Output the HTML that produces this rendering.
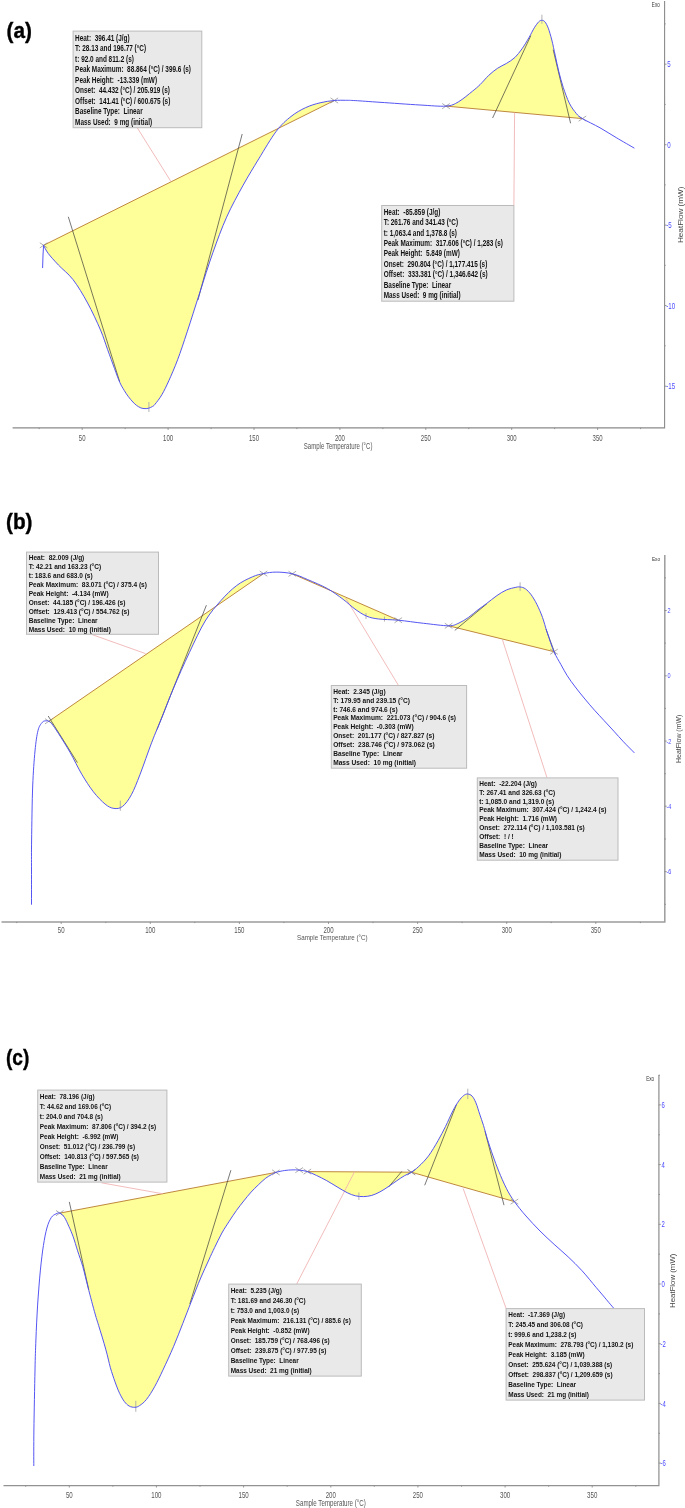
<!DOCTYPE html>
<html><head><meta charset="utf-8"><title>DSC curves</title>
<style>
html,body{margin:0;padding:0;background:#fff}
svg{display:block;font-family:"Liberation Sans",sans-serif}
</style></head><body>
<svg width="685" height="1508" viewBox="0 0 685 1508">
<rect width="685" height="1508" fill="#fff"/>
<path d="M43.6 245.3C44.4 246.7 45.7 250.1 48.2 253.4C50.7 256.7 54.3 260.6 58.4 265C62.5 269.4 68.1 273.3 73 279.6C77.9 285.9 83 294.6 87.6 303C92.2 311.4 97.2 322.3 100.5 330C103.8 337.7 105.2 342.9 107.5 349.3C109.8 355.7 112.5 363 114.5 368.5C116.5 374 118.2 378.8 119.8 382.4C121.4 386 122.8 388 124.2 390.4C125.7 392.8 127 394.9 128.5 396.8C129.9 398.7 131.6 400.6 132.9 402C134.2 403.4 135.1 404.3 136.4 405.3C137.7 406.3 139.4 407.3 140.8 407.9C142.2 408.4 143.7 408.6 145 408.6C146.3 408.7 147.5 408.5 148.7 408.2C149.9 407.9 151.2 407.2 152.2 406.6C153.2 406 153.2 406.5 154.8 404.5C156.4 402.5 159.5 398.8 161.8 394.8C164.1 390.9 166.2 386.6 168.8 380.8C171.4 375 174.5 368 177.6 359.8C180.7 351.6 183.5 343 187.2 331.8C190.9 320.6 195.4 306.1 199.7 292.8C204 279.6 208.5 264.9 213 252.3C217.5 239.7 221.6 228.4 226.6 217.2C231.6 206 237.8 194.8 243.2 185.1C248.6 175.4 253.3 167.8 258.8 158.8C264.3 149.8 271 138.2 276.4 131.1C281.8 124 286.1 120.4 291 116.5C295.9 112.6 300.6 110 305.5 107.7C310.4 105.4 315.3 104 320.1 102.8C324.9 101.6 330 100.9 334.3 100.5Z" fill="#ffff99" stroke="none"/>
<path d="M446 106.1C452.4 105.6 454.1 104.3 458.5 101.8C462.9 99.3 469 93.9 472.6 91.1C476.2 88.2 477.3 87.3 480 84.7C482.7 82.1 485.9 78 488.8 75.3C491.7 72.6 494.6 70.3 497.5 68.3C500.4 66.3 503.4 65.3 506.3 63.5C509.2 61.7 512.4 59.9 515 57.4C517.6 54.9 519.6 52.1 522 48.8C524.4 45.5 527.1 40.9 529.1 37.4C531.1 33.9 532.7 30.4 534.3 27.8C535.9 25.2 537.5 23.1 538.7 21.8C540 20.6 540.8 20.3 541.8 20.3C542.8 20.3 543.8 20.5 544.9 21.8C546 23.1 547.1 25.2 548.3 28.2C549.4 31.2 550.6 35.4 551.8 40C553 44.6 554.1 50.5 555.3 55.8C556.5 61.1 557.5 66.3 558.8 71.6C560.1 76.8 561.5 82 563.2 87.3C565 92.5 567.1 98.7 569.3 103.1C571.5 107.5 574.2 111 576.4 113.6C578.6 116.2 578.5 116.2 582.4 118.6Z" fill="#ffff99" stroke="none"/>
<line x1="43.6" y1="245.3" x2="334.3" y2="100.5" stroke="#b87a30" stroke-width="0.9"/>
<line x1="446" y1="106.1" x2="582.4" y2="118.6" stroke="#b87a30" stroke-width="0.9"/>
<line x1="137.2" y1="127.7" x2="170.8" y2="181.3" stroke="#f0b0b0" stroke-width="0.85"/>
<line x1="514.6" y1="112.5" x2="513.9" y2="205" stroke="#f0b0b0" stroke-width="0.85"/>
<line x1="68.3" y1="216.8" x2="119.7" y2="381.8" stroke="#3c3c3c" stroke-width="0.7"/>
<line x1="242.2" y1="134" x2="198" y2="300" stroke="#3c3c3c" stroke-width="0.7"/>
<line x1="492.6" y1="118" x2="530.8" y2="35.7" stroke="#3c3c3c" stroke-width="0.7"/>
<line x1="553.2" y1="49.7" x2="570.6" y2="123.3" stroke="#3c3c3c" stroke-width="0.7"/>
<path d="M39.8 242.7l7.6 5.2M39.8 247.9l7.6 -5.2" stroke="#8a8a8a" stroke-width="0.7" fill="none"/>
<path d="M330.5 97.9l7.6 5.2M330.5 103.1l7.6 -5.2" stroke="#8a8a8a" stroke-width="0.7" fill="none"/>
<path d="M442.2 103.5l7.6 5.2M442.2 108.7l7.6 -5.2" stroke="#8a8a8a" stroke-width="0.7" fill="none"/>
<path d="M578.6 116l7.6 5.2M578.6 121.2l7.6 -5.2" stroke="#8a8a8a" stroke-width="0.7" fill="none"/>
<line x1="148.9" y1="402" x2="148.9" y2="412" stroke="#aaa" stroke-width="0.9"/>
<line x1="541.9" y1="14.7" x2="541.9" y2="23.8" stroke="#aaa" stroke-width="0.9"/>
<path d="M42.6 268 L43 255 L43.6 245.3 M43.6 245.3C44.4 246.7 45.7 250.1 48.2 253.4C50.7 256.7 54.3 260.6 58.4 265C62.5 269.4 68.1 273.3 73 279.6C77.9 285.9 83 294.6 87.6 303C92.2 311.4 97.2 322.3 100.5 330C103.8 337.7 105.2 342.9 107.5 349.3C109.8 355.7 112.5 363 114.5 368.5C116.5 374 118.2 378.8 119.8 382.4C121.4 386 122.8 388 124.2 390.4C125.7 392.8 127 394.9 128.5 396.8C129.9 398.7 131.6 400.6 132.9 402C134.2 403.4 135.1 404.3 136.4 405.3C137.7 406.3 139.4 407.3 140.8 407.9C142.2 408.4 143.7 408.6 145 408.6C146.3 408.7 147.5 408.5 148.7 408.2C149.9 407.9 151.2 407.2 152.2 406.6C153.2 406 153.2 406.5 154.8 404.5C156.4 402.5 159.5 398.8 161.8 394.8C164.1 390.9 166.2 386.6 168.8 380.8C171.4 375 174.5 368 177.6 359.8C180.7 351.6 183.5 343 187.2 331.8C190.9 320.6 195.4 306.1 199.7 292.8C204 279.6 208.5 264.9 213 252.3C217.5 239.7 221.6 228.4 226.6 217.2C231.6 206 237.8 194.8 243.2 185.1C248.6 175.4 253.3 167.8 258.8 158.8C264.3 149.8 271 138.2 276.4 131.1C281.8 124 286.1 120.4 291 116.5C295.9 112.6 300.6 110 305.5 107.7C310.4 105.4 315.3 104 320.1 102.8C324.9 101.6 330 100.9 334.3 100.5C338.6 100.1 342.2 100.3 345.7 100.3C349.2 100.3 349.5 100.3 355.2 100.6C360.9 100.9 369.2 101.6 380 102.3C390.8 103 409 104.4 420 105C431 105.6 439.6 106.6 446 106.1C452.4 105.6 454.1 104.3 458.5 101.8C462.9 99.3 469 93.9 472.6 91.1C476.2 88.2 477.3 87.3 480 84.7C482.7 82.1 485.9 78 488.8 75.3C491.7 72.6 494.6 70.3 497.5 68.3C500.4 66.3 503.4 65.3 506.3 63.5C509.2 61.7 512.4 59.9 515 57.4C517.6 54.9 519.6 52.1 522 48.8C524.4 45.5 527.1 40.9 529.1 37.4C531.1 33.9 532.7 30.4 534.3 27.8C535.9 25.2 537.5 23.1 538.7 21.8C540 20.6 540.8 20.3 541.8 20.3C542.8 20.3 543.8 20.5 544.9 21.8C546 23.1 547.1 25.2 548.3 28.2C549.4 31.2 550.6 35.4 551.8 40C553 44.6 554.1 50.5 555.3 55.8C556.5 61.1 557.5 66.3 558.8 71.6C560.1 76.8 561.5 82 563.2 87.3C565 92.5 567.1 98.7 569.3 103.1C571.5 107.5 574.2 111 576.4 113.6C578.6 116.2 578.5 116.2 582.4 118.6C586.3 121 594.4 124.6 600 127.8C605.6 131 610.5 134.2 616.2 137.6C621.9 141 631.4 146.4 634.4 148.2" fill="none" stroke="#4c4cf2" stroke-width="0.95" stroke-linejoin="round"/>
<path d="M12.6 427.9H664.6V1" fill="none" stroke="#8a8a8a" stroke-width="1.1"/>
<path d="M39.2 427.9v1.2M82.2 427.9v2M125.2 427.9v1.2M168.1 427.9v2M211.1 427.9v1.2M254 427.9v2M296.9 427.9v1.2M339.9 427.9v2M382.9 427.9v1.2M425.8 427.9v2M468.8 427.9v1.2M511.7 427.9v2M554.7 427.9v1.2M597.6 427.9v2M640.6 427.9v1.2M664.3 64.2h2.2M664.3 144.7h2.2M664.3 225.1h2.2M664.3 305.5h2.2M664.3 386.2h2.2M664.3 23.9h1.4M664.3 104.4h1.4M664.3 184.9h1.4M664.3 265.3h1.4M664.3 345.8h1.4" stroke="#8a8a8a" stroke-width="0.9" fill="none"/>
<text transform="translate(82.2 440.8) scale(0.645 1)" font-size="9.3" text-anchor="middle" fill="#555">50</text>
<text transform="translate(168.1 440.8) scale(0.645 1)" font-size="9.3" text-anchor="middle" fill="#555">100</text>
<text transform="translate(254 440.8) scale(0.645 1)" font-size="9.3" text-anchor="middle" fill="#555">150</text>
<text transform="translate(339.9 440.8) scale(0.645 1)" font-size="9.3" text-anchor="middle" fill="#555">200</text>
<text transform="translate(425.8 440.8) scale(0.645 1)" font-size="9.3" text-anchor="middle" fill="#555">250</text>
<text transform="translate(511.7 440.8) scale(0.645 1)" font-size="9.3" text-anchor="middle" fill="#555">300</text>
<text transform="translate(597.6 440.8) scale(0.645 1)" font-size="9.3" text-anchor="middle" fill="#555">350</text>
<text transform="translate(667.3 67.2) scale(0.73 1)" font-size="8.4" text-anchor="start" fill="#4a4aff">5</text>
<text transform="translate(667.3 147.7) scale(0.73 1)" font-size="8.4" text-anchor="start" fill="#4a4aff">0</text>
<text transform="translate(666.3 228.1) scale(0.73 1)" font-size="8.4" text-anchor="start" fill="#4a4aff">-5</text>
<text transform="translate(666.3 308.5) scale(0.73 1)" font-size="8.4" text-anchor="start" fill="#4a4aff">-10</text>
<text transform="translate(666.3 389.2) scale(0.73 1)" font-size="8.4" text-anchor="start" fill="#4a4aff">-15</text>
<text transform="translate(338.1 448.9) scale(0.714 1)" font-size="8.5" text-anchor="middle" fill="#555">Sample Temperature (°C)</text>
<text transform="translate(659.8 7) scale(0.72 1)" font-size="6.4" text-anchor="end" fill="#333">Exo</text>
<text transform="translate(683 214.8) rotate(-90) scale(1.13 1)" text-anchor="middle" font-size="7.2" fill="#444">HeatFlow (mW)</text>
<rect x="73.1" y="31.1" width="128.7" height="96.6" fill="#e9e9e9" stroke="#bbb" stroke-width="1"/>
<g transform="translate(75.1 0) scale(0.774 1)" font-size="8.3" font-weight="bold" fill="#111"><text x="0" y="40.8" xml:space="preserve">Heat:  396.41 (J/g)</text><text x="0" y="51.3" xml:space="preserve">T: 28.13 and 196.77 (°C)</text><text x="0" y="61.7" xml:space="preserve">t: 92.0 and 811.2 (s)</text><text x="0" y="72.2" xml:space="preserve">Peak Maximum:  88.864 (°C) / 399.6 (s)</text><text x="0" y="82.7" xml:space="preserve">Peak Height:  -13.339 (mW)</text><text x="0" y="93.2" xml:space="preserve">Onset:  44.432 (°C) / 205.919 (s)</text><text x="0" y="103.6" xml:space="preserve">Offset:  141.41 (°C) / 600.675 (s)</text><text x="0" y="114.1" xml:space="preserve">Baseline Type:  Linear</text><text x="0" y="124.6" xml:space="preserve">Mass Used:  9 mg (initial)</text></g>
<rect x="381.7" y="205.5" width="132.2" height="95.7" fill="#e9e9e9" stroke="#bbb" stroke-width="1"/>
<g transform="translate(383.7 0) scale(0.772 1)" font-size="8.3" font-weight="bold" fill="#111"><text x="0" y="214.7" xml:space="preserve">Heat:  -85.859 (J/g)</text><text x="0" y="225.1" xml:space="preserve">T: 261.76 and 341.43 (°C)</text><text x="0" y="235.6" xml:space="preserve">t: 1,063.4 and 1,378.8 (s)</text><text x="0" y="246" xml:space="preserve">Peak Maximum:  317.606 (°C) / 1,283 (s)</text><text x="0" y="256.4" xml:space="preserve">Peak Height:  5.849 (mW)</text><text x="0" y="266.8" xml:space="preserve">Onset:  290.804 (°C) / 1,177.415 (s)</text><text x="0" y="277.3" xml:space="preserve">Offset:  333.381 (°C) / 1,346.642 (s)</text><text x="0" y="287.7" xml:space="preserve">Baseline Type:  Linear</text><text x="0" y="298.1" xml:space="preserve">Mass Used:  9 mg (initial)</text></g>
<text transform="translate(6.6 38) scale(0.965 1)" font-size="21.5" font-weight="bold" fill="#000" stroke="#000" stroke-width="0.35">(a)</text>
<path d="M48.8 721.3C49.7 721.7 49.9 721.4 51.5 723.4C53.1 725.4 55.3 728.6 58.4 733.4C61.5 738.2 66.2 745.6 70.1 752.4C74 759.2 77.9 767.7 81.8 774.3C85.7 780.9 89.5 786.8 93.4 791.8C97.3 796.8 101.7 801.3 105.1 804.1C108.5 806.9 111 808 113.9 808.4C116.8 808.8 119.7 808.7 122.6 806.4C125.5 804.1 128.5 800.1 131.4 794.7C134.3 789.4 136.7 783 140.1 774.3C143.5 765.5 148.1 751.9 151.8 742.2C155.5 732.5 158.9 725 162.5 716C166.1 707 169.1 698.6 173.6 688C178.1 677.4 184.1 663.7 189.4 652.5C194.7 641.3 199.9 629.7 205.2 621C210.5 612.3 215.8 606.4 221 600.5C226.2 594.6 231.4 589.5 236.7 585.5C241.9 581.5 248 578.8 252.5 576.8C257 574.8 259.6 574.4 263.5 573.6Z" fill="#ffff99" stroke="none"/>
<path d="M292.3 573.8C297.6 575 301.9 577.1 307.7 579.6C313.5 582.1 321.5 585.3 327.4 588.6C333.3 591.9 338.5 595.9 343.1 599.3C347.7 602.7 351.1 606.3 355 609.1C358.9 611.9 362.9 614.6 366.8 616.2C370.7 617.9 373.4 618.3 378.6 619C383.9 619.7 390.8 619.5 398.3 620.2Z" fill="#ffff99" stroke="none"/>
<path d="M448.6 625.8C454.5 625.8 455.7 624.4 459 623C462.3 621.6 465.3 619.6 468.5 617.4C471.7 615.2 475 612.1 478 609.8C481 607.5 483.4 606 486.5 603.6C489.6 601.2 493.6 597.9 496.9 595.6C500.2 593.3 503.2 591.4 506.4 590C509.6 588.6 513.6 587.8 515.9 587.3C518.2 586.8 518.5 586.8 520.1 587C521.7 587.2 523.6 587.5 525.4 588.8C527.2 590.1 529.2 592.1 531.1 594.7C533 597.3 534.9 600.4 536.8 604.2C538.7 608 540.8 612.7 542.5 617.4C544.2 622.1 545.3 626.9 547.2 632.6C549.1 638.3 551.7 646.4 554 651.7Z" fill="#ffff99" stroke="none"/>
<line x1="48.8" y1="721.3" x2="263.5" y2="573.6" stroke="#b87a30" stroke-width="0.9"/>
<line x1="292.3" y1="573.8" x2="398.3" y2="620.2" stroke="#b87a30" stroke-width="0.9"/>
<line x1="448.6" y1="625.8" x2="554" y2="651.7" stroke="#b87a30" stroke-width="0.9"/>
<line x1="91.3" y1="634.3" x2="145.5" y2="653.6" stroke="#f0b0b0" stroke-width="0.85"/>
<line x1="345.5" y1="597.7" x2="398.5" y2="685.5" stroke="#f0b0b0" stroke-width="0.85"/>
<line x1="502.5" y1="639.9" x2="547" y2="777.7" stroke="#f0b0b0" stroke-width="0.85"/>
<line x1="48.2" y1="716" x2="77.4" y2="762.6" stroke="#3c3c3c" stroke-width="0.7"/>
<line x1="206.4" y1="605.2" x2="157" y2="729.5" stroke="#3c3c3c" stroke-width="0.7"/>
<line x1="454.8" y1="630.4" x2="487" y2="603.6" stroke="#3c3c3c" stroke-width="0.7"/>
<line x1="546" y1="629" x2="555.5" y2="655" stroke="#3c3c3c" stroke-width="0.7"/>
<path d="M45 718.7l7.6 5.2M45 723.9l7.6 -5.2" stroke="#8a8a8a" stroke-width="0.7" fill="none"/>
<path d="M259.7 571l7.6 5.2M259.7 576.2l7.6 -5.2" stroke="#8a8a8a" stroke-width="0.7" fill="none"/>
<path d="M288.5 571.2l7.6 5.2M288.5 576.4l7.6 -5.2" stroke="#8a8a8a" stroke-width="0.7" fill="none"/>
<path d="M394.5 617.6l7.6 5.2M394.5 622.8l7.6 -5.2" stroke="#8a8a8a" stroke-width="0.7" fill="none"/>
<path d="M444.8 623.2l7.6 5.2M444.8 628.4l7.6 -5.2" stroke="#8a8a8a" stroke-width="0.7" fill="none"/>
<path d="M550.2 649.1l7.6 5.2M550.2 654.3l7.6 -5.2" stroke="#8a8a8a" stroke-width="0.7" fill="none"/>
<line x1="120.3" y1="800.6" x2="120.3" y2="810.8" stroke="#aaa" stroke-width="0.9"/>
<line x1="520.1" y1="582.3" x2="520.1" y2="590.9" stroke="#aaa" stroke-width="0.9"/>
<line x1="366" y1="613" x2="366" y2="619" stroke="#aaa" stroke-width="0.9"/>
<line x1="384.5" y1="616.5" x2="384.5" y2="621.5" stroke="#aaa" stroke-width="0.9"/>
<path d="M31.5 904.7C31.5 898.9 31.5 880.8 31.5 870C31.5 859.2 31.4 854 31.6 840C31.8 826 32.1 800.8 32.7 786C33.3 771.2 34.1 760.2 35 751C35.9 741.8 36.8 735.3 38 730.5C39.2 725.7 41 723.9 42.3 722.3C43.6 720.7 44.9 721 46 720.8C47.1 720.6 47.9 720.9 48.8 721.3C49.7 721.7 49.9 721.4 51.5 723.4C53.1 725.4 55.3 728.6 58.4 733.4C61.5 738.2 66.2 745.6 70.1 752.4C74 759.2 77.9 767.7 81.8 774.3C85.7 780.9 89.5 786.8 93.4 791.8C97.3 796.8 101.7 801.3 105.1 804.1C108.5 806.9 111 808 113.9 808.4C116.8 808.8 119.7 808.7 122.6 806.4C125.5 804.1 128.5 800.1 131.4 794.7C134.3 789.4 136.7 783 140.1 774.3C143.5 765.5 148.1 751.9 151.8 742.2C155.5 732.5 158.9 725 162.5 716C166.1 707 169.1 698.6 173.6 688C178.1 677.4 184.1 663.7 189.4 652.5C194.7 641.3 199.9 629.7 205.2 621C210.5 612.3 215.8 606.4 221 600.5C226.2 594.6 231.4 589.5 236.7 585.5C241.9 581.5 248 578.8 252.5 576.8C257 574.8 259.6 574.4 263.5 573.6C267.4 572.8 271.3 572.1 276.1 572.1C280.9 572.1 287 572.5 292.3 573.8C297.6 575 301.9 577.1 307.7 579.6C313.5 582.1 321.5 585.3 327.4 588.6C333.3 591.9 338.5 595.9 343.1 599.3C347.7 602.7 351.1 606.3 355 609.1C358.9 611.9 362.9 614.6 366.8 616.2C370.7 617.9 373.4 618.3 378.6 619C383.9 619.7 390.8 619.5 398.3 620.2C405.8 620.9 415.2 622.4 423.6 623.3C432 624.2 442.7 625.8 448.6 625.8C454.5 625.8 455.7 624.4 459 623C462.3 621.6 465.3 619.6 468.5 617.4C471.7 615.2 475 612.1 478 609.8C481 607.5 483.4 606 486.5 603.6C489.6 601.2 493.6 597.9 496.9 595.6C500.2 593.3 503.2 591.4 506.4 590C509.6 588.6 513.6 587.8 515.9 587.3C518.2 586.8 518.5 586.8 520.1 587C521.7 587.2 523.6 587.5 525.4 588.8C527.2 590.1 529.2 592.1 531.1 594.7C533 597.3 534.9 600.4 536.8 604.2C538.7 608 540.8 612.7 542.5 617.4C544.2 622.1 545.3 626.9 547.2 632.6C549.1 638.3 551.7 646.4 554 651.7C556.3 657 558.7 660.5 560.9 664.5C563.1 668.5 564.9 672 567.3 675.8C569.7 679.5 572.3 683.1 575.3 687C578.2 690.9 581.8 695.2 585 699.1C588.2 703 591.4 706.7 594.6 710.3C597.8 713.9 601 717.2 604.2 720.7C607.4 724.2 610.7 727.7 613.9 731.2C617.1 734.7 620.1 738.2 623.5 741.8C626.9 745.4 632.6 751 634.4 752.9" fill="none" stroke="#4c4cf2" stroke-width="0.95" stroke-linejoin="round"/>
<path d="M1.5 921.9H664.8V555" fill="none" stroke="#9c9c9c" stroke-width="1.5"/>
<path d="M16.7 921.9v1.2M61.2 921.9v2M105.8 921.9v1.2M150.3 921.9v2M194.8 921.9v1.2M239.4 921.9v2M283.9 921.9v1.2M328.5 921.9v2M373 921.9v1.2M417.6 921.9v2M462.1 921.9v1.2M506.7 921.9v2M551.2 921.9v1.2M595.8 921.9v2M640.4 921.9v1.2M664.5 610.5h2.2M664.5 675.8h2.2M664.5 741.1h2.2M664.5 806.2h2.2M664.5 871.6h2.2M664.5 577.8h1.4M664.5 643.1h1.4M664.5 708.4h1.4M664.5 773.7h1.4M664.5 839h1.4M664.5 904.3h1.4" stroke="#8a8a8a" stroke-width="0.9" fill="none"/>
<text transform="translate(61.2 933) scale(0.715 1)" font-size="8.5" text-anchor="middle" fill="#555">50</text>
<text transform="translate(150.3 933) scale(0.715 1)" font-size="8.5" text-anchor="middle" fill="#555">100</text>
<text transform="translate(239.4 933) scale(0.715 1)" font-size="8.5" text-anchor="middle" fill="#555">150</text>
<text transform="translate(328.5 933) scale(0.715 1)" font-size="8.5" text-anchor="middle" fill="#555">200</text>
<text transform="translate(417.6 933) scale(0.715 1)" font-size="8.5" text-anchor="middle" fill="#555">250</text>
<text transform="translate(506.7 933) scale(0.715 1)" font-size="8.5" text-anchor="middle" fill="#555">300</text>
<text transform="translate(595.8 933) scale(0.715 1)" font-size="8.5" text-anchor="middle" fill="#555">350</text>
<text transform="translate(667.5 613) scale(0.8 1)" font-size="6.9" text-anchor="start" fill="#4a4aff">2</text>
<text transform="translate(667.5 678.2) scale(0.8 1)" font-size="6.9" text-anchor="start" fill="#4a4aff">0</text>
<text transform="translate(666.5 743.6) scale(0.8 1)" font-size="6.9" text-anchor="start" fill="#4a4aff">-2</text>
<text transform="translate(666.5 808.7) scale(0.8 1)" font-size="6.9" text-anchor="start" fill="#4a4aff">-4</text>
<text transform="translate(666.5 874.1) scale(0.8 1)" font-size="6.9" text-anchor="start" fill="#4a4aff">-6</text>
<text transform="translate(332.3 939.8) scale(0.809 1)" font-size="7.7" text-anchor="middle" fill="#555">Sample Temperature (°C)</text>
<text transform="translate(660 560.8) scale(0.83 1)" font-size="5.6" text-anchor="end" fill="#333">Exo</text>
<text transform="translate(681.2 738.8) rotate(-90) scale(0.968 1)" text-anchor="middle" font-size="7.2" fill="#444">HeatFlow (mW)</text>
<rect x="26.5" y="552.1" width="132" height="82.2" fill="#e9e9e9" stroke="#bbb" stroke-width="1"/>
<g transform="translate(28.7 0) scale(0.936 1)" font-size="7.0" font-weight="bold" fill="#111"><text x="0" y="560.4" xml:space="preserve">Heat:  82.009 (J/g)</text><text x="0" y="569.3" xml:space="preserve">T: 42.21 and 163.23 (°C)</text><text x="0" y="578.3" xml:space="preserve">t: 183.6 and 683.0 (s)</text><text x="0" y="587.2" xml:space="preserve">Peak Maximum:  83.071 (°C) / 375.4 (s)</text><text x="0" y="596.2" xml:space="preserve">Peak Height:  -4.134 (mW)</text><text x="0" y="605.1" xml:space="preserve">Onset:  44.185 (°C) / 196.426 (s)</text><text x="0" y="614" xml:space="preserve">Offset:  129.413 (°C) / 554.762 (s)</text><text x="0" y="623" xml:space="preserve">Baseline Type:  Linear</text><text x="0" y="631.9" xml:space="preserve">Mass Used:  10 mg (initial)</text></g>
<rect x="331.3" y="685.5" width="135.3" height="82.7" fill="#e9e9e9" stroke="#bbb" stroke-width="1"/>
<g transform="translate(333.2 0) scale(0.942 1)" font-size="7.0" font-weight="bold" fill="#111"><text x="0" y="693.6" xml:space="preserve">Heat:  2.345 (J/g)</text><text x="0" y="702.6" xml:space="preserve">T: 179.95 and 239.15 (°C)</text><text x="0" y="711.6" xml:space="preserve">t: 746.6 and 974.6 (s)</text><text x="0" y="720.5" xml:space="preserve">Peak Maximum:  221.073 (°C) / 904.6 (s)</text><text x="0" y="729.5" xml:space="preserve">Peak Height:  -0.303 (mW)</text><text x="0" y="738.5" xml:space="preserve">Onset:  201.177 (°C) / 827.827 (s)</text><text x="0" y="747.5" xml:space="preserve">Offset:  238.746 (°C) / 973.062 (s)</text><text x="0" y="756.5" xml:space="preserve">Baseline Type:  Linear</text><text x="0" y="765.4" xml:space="preserve">Mass Used:  10 mg (initial)</text></g>
<rect x="477.3" y="777.9" width="140.7" height="82.3" fill="#e9e9e9" stroke="#bbb" stroke-width="1"/>
<g transform="translate(479.2 0) scale(0.937 1)" font-size="7.0" font-weight="bold" fill="#111"><text x="0" y="785.6" xml:space="preserve">Heat:  -22.204 (J/g)</text><text x="0" y="794.6" xml:space="preserve">T: 267.41 and 326.63 (°C)</text><text x="0" y="803.6" xml:space="preserve">t: 1,085.0 and 1,319.0 (s)</text><text x="0" y="812.5" xml:space="preserve">Peak Maximum:  307.424 (°C) / 1,242.4 (s)</text><text x="0" y="821.5" xml:space="preserve">Peak Height:  1.716 (mW)</text><text x="0" y="830.5" xml:space="preserve">Onset:  272.114 (°C) / 1,103.581 (s)</text><text x="0" y="839.5" xml:space="preserve">Offset:  ! / !</text><text x="0" y="848.5" xml:space="preserve">Baseline Type:  Linear</text><text x="0" y="857.4" xml:space="preserve">Mass Used:  10 mg (initial)</text></g>
<text transform="translate(6 528.9) scale(0.965 1)" font-size="21.5" font-weight="bold" fill="#000" stroke="#000" stroke-width="0.35">(b)</text>
<path d="M59.8 1213.1C61.2 1213.7 62.9 1215.1 64.4 1217.3C65.9 1219.5 67.3 1223 68.8 1226.3C70.3 1229.5 71.7 1232.7 73.2 1236.8C74.7 1240.9 76 1245.8 77.6 1250.8C79.2 1255.8 81 1260.5 82.8 1266.6C84.5 1272.7 86 1279.7 88.1 1287.6C90.1 1295.5 93.3 1307.6 95.1 1313.9C96.9 1320.2 96.9 1319.8 98.7 1325.7C100.5 1331.6 103.8 1342.1 105.7 1349.1C107.7 1356.1 108.9 1362.3 110.4 1367.8C112 1373.2 113.5 1377.5 115 1381.8C116.5 1386.1 118.1 1390.2 119.7 1393.5C121.3 1396.8 122.8 1399.5 124.4 1401.6C126 1403.7 127.3 1405 129.1 1406C130.8 1407 133.2 1407.4 134.9 1407.3C136.7 1407.2 137.7 1406.9 139.6 1405.6C141.5 1404.3 144.1 1402.5 146.6 1399.3C149.1 1396.1 152.1 1391.3 154.8 1386.4C157.5 1381.5 159.8 1376.7 162.9 1370.1C166 1363.5 170.2 1354.5 173.5 1346.7C176.8 1338.9 179.9 1330.8 182.8 1323.4C185.7 1316 188 1309.9 191 1302.3C194 1294.7 197.7 1285 200.7 1278C203.7 1271 206.5 1265.1 208.8 1260C211.1 1254.9 212.4 1252.1 214.6 1247.6C216.8 1243.1 219.5 1237.4 221.9 1233C224.3 1228.6 226.8 1225.1 229.2 1221.3C231.6 1217.5 234.1 1213.8 236.5 1210.4C238.9 1207 241.4 1204 243.8 1200.9C246.2 1197.9 248.7 1194.8 251.1 1192.1C253.5 1189.4 256 1187.1 258.4 1184.8C260.8 1182.5 263.5 1179.9 265.7 1178.2C267.9 1176.5 269.8 1175.6 271.5 1174.6C273.2 1173.6 273.7 1173.1 275.9 1172.4Z" fill="#ffff99" stroke="none"/>
<path d="M307.4 1171.6C310.3 1172.5 313.4 1174 316.6 1175.5C319.8 1177 323.4 1178.8 326.8 1180.7C330.2 1182.6 333.6 1184.8 337 1186.8C340.4 1188.8 344.1 1191.2 347.2 1192.7C350.3 1194.2 352.7 1195.2 355.4 1195.8C358.1 1196.4 360.9 1196.7 363.6 1196.6C366.3 1196.5 369.1 1196.2 371.8 1195.4C374.5 1194.6 377.2 1193.3 379.9 1191.9C382.6 1190.5 385.4 1188.6 388.1 1186.8C390.8 1185 393.6 1182.9 396.3 1181.1C399 1179.2 402 1177.2 404.5 1175.7C407 1174.2 409 1173.8 411.4 1172.2Z" fill="#ffff99" stroke="none"/>
<path d="M411.4 1172.2C413.8 1170.7 415.9 1169.1 418.8 1166.4C421.7 1163.7 425.3 1160.2 428.5 1155.9C431.7 1151.6 435.2 1145.6 438 1140.7C440.8 1135.8 443 1131.5 445.5 1126.5C448 1121.5 450.9 1114.7 453.1 1110.4C455.3 1106.1 457.1 1103.4 458.8 1100.9C460.6 1098.4 462.1 1096.8 463.6 1095.6C465.1 1094.4 466.3 1093.9 467.7 1094C469.1 1094.1 470.7 1094.6 472.1 1096.1C473.5 1097.6 474.6 1099.8 475.9 1102.8C477.2 1105.8 478.4 1110.4 479.7 1114.2C481 1118 482.2 1121.4 483.5 1125.5C484.8 1129.6 485.7 1133.7 487.3 1138.8C488.9 1143.9 491.1 1150.5 493 1155.9C494.9 1161.3 496.5 1165.7 498.7 1171.1C500.9 1176.5 503.7 1183.1 506.3 1188.2C508.9 1193.3 511.1 1197 514.4 1201.6Z" fill="#ffff99" stroke="none"/>
<line x1="59.8" y1="1213.1" x2="275.9" y2="1172.4" stroke="#b87a30" stroke-width="0.9"/>
<line x1="307.4" y1="1171.6" x2="411.4" y2="1172.2" stroke="#b87a30" stroke-width="0.9"/>
<line x1="411.4" y1="1172.2" x2="514.4" y2="1201.6" stroke="#b87a30" stroke-width="0.9"/>
<line x1="101.4" y1="1182.8" x2="162.9" y2="1193.8" stroke="#f0b0b0" stroke-width="0.85"/>
<line x1="354.5" y1="1171.8" x2="296.6" y2="1284.2" stroke="#f0b0b0" stroke-width="0.85"/>
<line x1="463.2" y1="1188.6" x2="506.1" y2="1308.4" stroke="#f0b0b0" stroke-width="0.85"/>
<line x1="69.3" y1="1201.9" x2="88.7" y2="1289.5" stroke="#3c3c3c" stroke-width="0.7"/>
<line x1="230.9" y1="1170.2" x2="189.8" y2="1304" stroke="#3c3c3c" stroke-width="0.7"/>
<line x1="388.4" y1="1187.2" x2="401.8" y2="1171.4" stroke="#3c3c3c" stroke-width="0.7"/>
<line x1="424.7" y1="1185.3" x2="456.4" y2="1104.7" stroke="#3c3c3c" stroke-width="0.7"/>
<line x1="485" y1="1131.2" x2="504" y2="1205.2" stroke="#3c3c3c" stroke-width="0.7"/>
<path d="M56 1210.5l7.6 5.2M56 1215.7l7.6 -5.2" stroke="#8a8a8a" stroke-width="0.7" fill="none"/>
<path d="M272.1 1169.8l7.6 5.2M272.1 1175l7.6 -5.2" stroke="#8a8a8a" stroke-width="0.7" fill="none"/>
<path d="M303.6 1169l7.6 5.2M303.6 1174.2l7.6 -5.2" stroke="#8a8a8a" stroke-width="0.7" fill="none"/>
<path d="M407.6 1169.6l7.6 5.2M407.6 1174.8l7.6 -5.2" stroke="#8a8a8a" stroke-width="0.7" fill="none"/>
<path d="M407.6 1169.6l7.6 5.2M407.6 1174.8l7.6 -5.2" stroke="#8a8a8a" stroke-width="0.7" fill="none"/>
<path d="M510.6 1199l7.6 5.2M510.6 1204.2l7.6 -5.2" stroke="#8a8a8a" stroke-width="0.7" fill="none"/>
<path d="M295.4 1167.5l7.6 5.2M295.4 1172.7l7.6 -5.2" stroke="#8a8a8a" stroke-width="0.7" fill="none"/>
<line x1="135.8" y1="1400.8" x2="135.8" y2="1411.8" stroke="#aaa" stroke-width="0.9"/>
<line x1="467.8" y1="1088.7" x2="467.8" y2="1099.1" stroke="#aaa" stroke-width="0.9"/>
<line x1="358.9" y1="1192.5" x2="358.9" y2="1200" stroke="#aaa" stroke-width="0.9"/>
<path d="M33.8 1466C33.8 1460 33.7 1446 33.9 1430C34.1 1414 34.7 1385 35 1370C35.3 1355 35.5 1350.8 35.9 1340C36.3 1329.2 36.9 1316.8 37.6 1305.1C38.4 1293.4 39.4 1280 40.4 1270.1C41.4 1260.2 42.3 1252.6 43.4 1245.6C44.5 1238.6 45.6 1232.7 46.9 1228C48.2 1223.3 49.8 1219.8 51.3 1217.5C52.8 1215.2 54.6 1214.6 56 1213.9C57.4 1213.2 58.4 1212.5 59.8 1213.1C61.2 1213.7 62.9 1215.1 64.4 1217.3C65.9 1219.5 67.3 1223 68.8 1226.3C70.3 1229.5 71.7 1232.7 73.2 1236.8C74.7 1240.9 76 1245.8 77.6 1250.8C79.2 1255.8 81 1260.5 82.8 1266.6C84.5 1272.7 86 1279.7 88.1 1287.6C90.1 1295.5 93.3 1307.6 95.1 1313.9C96.9 1320.2 96.9 1319.8 98.7 1325.7C100.5 1331.6 103.8 1342.1 105.7 1349.1C107.7 1356.1 108.9 1362.3 110.4 1367.8C112 1373.2 113.5 1377.5 115 1381.8C116.5 1386.1 118.1 1390.2 119.7 1393.5C121.3 1396.8 122.8 1399.5 124.4 1401.6C126 1403.7 127.3 1405 129.1 1406C130.8 1407 133.2 1407.4 134.9 1407.3C136.7 1407.2 137.7 1406.9 139.6 1405.6C141.5 1404.3 144.1 1402.5 146.6 1399.3C149.1 1396.1 152.1 1391.3 154.8 1386.4C157.5 1381.5 159.8 1376.7 162.9 1370.1C166 1363.5 170.2 1354.5 173.5 1346.7C176.8 1338.9 179.9 1330.8 182.8 1323.4C185.7 1316 188 1309.9 191 1302.3C194 1294.7 197.7 1285 200.7 1278C203.7 1271 206.5 1265.1 208.8 1260C211.1 1254.9 212.4 1252.1 214.6 1247.6C216.8 1243.1 219.5 1237.4 221.9 1233C224.3 1228.6 226.8 1225.1 229.2 1221.3C231.6 1217.5 234.1 1213.8 236.5 1210.4C238.9 1207 241.4 1204 243.8 1200.9C246.2 1197.9 248.7 1194.8 251.1 1192.1C253.5 1189.4 256 1187.1 258.4 1184.8C260.8 1182.5 263.5 1179.9 265.7 1178.2C267.9 1176.5 269.8 1175.6 271.5 1174.6C273.2 1173.6 273.7 1173.1 275.9 1172.4C278.1 1171.7 282 1170.9 284.7 1170.5C287.4 1170.1 289.6 1170 292 1169.9C294.4 1169.8 296.6 1169.8 299.2 1170.1C301.8 1170.4 304.5 1170.7 307.4 1171.6C310.3 1172.5 313.4 1174 316.6 1175.5C319.8 1177 323.4 1178.8 326.8 1180.7C330.2 1182.6 333.6 1184.8 337 1186.8C340.4 1188.8 344.1 1191.2 347.2 1192.7C350.3 1194.2 352.7 1195.2 355.4 1195.8C358.1 1196.4 360.9 1196.7 363.6 1196.6C366.3 1196.5 369.1 1196.2 371.8 1195.4C374.5 1194.6 377.2 1193.3 379.9 1191.9C382.6 1190.5 385.4 1188.6 388.1 1186.8C390.8 1185 393.6 1182.9 396.3 1181.1C399 1179.2 402 1177.2 404.5 1175.7C407 1174.2 409 1173.8 411.4 1172.2C413.8 1170.7 415.9 1169.1 418.8 1166.4C421.7 1163.7 425.3 1160.2 428.5 1155.9C431.7 1151.6 435.2 1145.6 438 1140.7C440.8 1135.8 443 1131.5 445.5 1126.5C448 1121.5 450.9 1114.7 453.1 1110.4C455.3 1106.1 457.1 1103.4 458.8 1100.9C460.6 1098.4 462.1 1096.8 463.6 1095.6C465.1 1094.4 466.3 1093.9 467.7 1094C469.1 1094.1 470.7 1094.6 472.1 1096.1C473.5 1097.6 474.6 1099.8 475.9 1102.8C477.2 1105.8 478.4 1110.4 479.7 1114.2C481 1118 482.2 1121.4 483.5 1125.5C484.8 1129.6 485.7 1133.7 487.3 1138.8C488.9 1143.9 491.1 1150.5 493 1155.9C494.9 1161.3 496.5 1165.7 498.7 1171.1C500.9 1176.5 503.7 1183.1 506.3 1188.2C508.9 1193.3 511.1 1197 514.4 1201.6C517.7 1206.2 521.7 1211.1 526 1216C530.3 1220.9 535.3 1226.3 540 1231C544.7 1235.7 549.4 1240 554.1 1244.3C558.8 1248.6 563.4 1252.4 568.1 1256.8C572.8 1261.2 577.4 1265.7 582.1 1270.8C586.8 1275.9 592 1282.6 596.1 1287.4C600.2 1292.2 603.7 1296.3 606.6 1299.8C609.5 1303.3 612.6 1306.9 613.8 1308.3" fill="none" stroke="#4c4cf2" stroke-width="0.95" stroke-linejoin="round"/>
<path d="M3.5 1485.5H658.9V1075" fill="none" stroke="#929292" stroke-width="1.25"/>
<path d="M25.7 1485.5v1.2M69.3 1485.5v2M112.9 1485.5v1.2M156.4 1485.5v2M200 1485.5v1.2M243.6 1485.5v2M287.2 1485.5v1.2M330.8 1485.5v2M374.3 1485.5v1.2M417.9 1485.5v2M461.5 1485.5v1.2M505.1 1485.5v2M548.6 1485.5v1.2M592.2 1485.5v2M635.8 1485.5v1.2M658.6 1104.9h2.2M658.6 1164.6h2.2M658.6 1224.3h2.2M658.6 1284h2.2M658.6 1343.7h2.2M658.6 1403.4h2.2M658.6 1463.1h2.2M658.6 1075.2h1.4M658.6 1134.8h1.4M658.6 1194.5h1.4M658.6 1254.2h1.4M658.6 1313.9h1.4M658.6 1373.6h1.4M658.6 1433.3h1.4" stroke="#8a8a8a" stroke-width="0.9" fill="none"/>
<text transform="translate(69.3 1498) scale(0.672 1)" font-size="9.1" text-anchor="middle" fill="#555">50</text>
<text transform="translate(156.4 1498) scale(0.672 1)" font-size="9.1" text-anchor="middle" fill="#555">100</text>
<text transform="translate(243.6 1498) scale(0.672 1)" font-size="9.1" text-anchor="middle" fill="#555">150</text>
<text transform="translate(330.8 1498) scale(0.672 1)" font-size="9.1" text-anchor="middle" fill="#555">200</text>
<text transform="translate(417.9 1498) scale(0.672 1)" font-size="9.1" text-anchor="middle" fill="#555">250</text>
<text transform="translate(505.1 1498) scale(0.672 1)" font-size="9.1" text-anchor="middle" fill="#555">300</text>
<text transform="translate(592.2 1498) scale(0.672 1)" font-size="9.1" text-anchor="middle" fill="#555">350</text>
<text transform="translate(661.6 1108) scale(0.7 1)" font-size="8.5" text-anchor="start" fill="#4a4aff">6</text>
<text transform="translate(661.6 1167.6) scale(0.7 1)" font-size="8.5" text-anchor="start" fill="#4a4aff">4</text>
<text transform="translate(661.6 1227.3) scale(0.7 1)" font-size="8.5" text-anchor="start" fill="#4a4aff">2</text>
<text transform="translate(661.6 1287) scale(0.7 1)" font-size="8.5" text-anchor="start" fill="#4a4aff">0</text>
<text transform="translate(660.6 1346.8) scale(0.7 1)" font-size="8.5" text-anchor="start" fill="#4a4aff">-2</text>
<text transform="translate(660.6 1406.5) scale(0.7 1)" font-size="8.5" text-anchor="start" fill="#4a4aff">-4</text>
<text transform="translate(660.6 1466.1) scale(0.7 1)" font-size="8.5" text-anchor="start" fill="#4a4aff">-6</text>
<text transform="translate(330.8 1505.5) scale(0.727 1)" font-size="8.5" text-anchor="middle" fill="#555">Sample Temperature (°C)</text>
<text transform="translate(654.1 1081) scale(0.72 1)" font-size="6.4" text-anchor="end" fill="#333">Exo</text>
<text transform="translate(675.3 1280.8) rotate(-90) scale(1.09 1)" text-anchor="middle" font-size="7.2" fill="#444">HeatFlow (mW)</text>
<rect x="37.7" y="1090.1" width="129.2" height="92" fill="#e9e9e9" stroke="#bbb" stroke-width="1"/>
<g transform="translate(39.8 0) scale(0.837 1)" font-size="7.7" font-weight="bold" fill="#111"><text x="0" y="1099.4" xml:space="preserve">Heat:  78.196 (J/g)</text><text x="0" y="1109.4" xml:space="preserve">T: 44.62 and 169.06 (°C)</text><text x="0" y="1119.4" xml:space="preserve">t: 204.0 and 704.8 (s)</text><text x="0" y="1129.4" xml:space="preserve">Peak Maximum:  87.806 (°C) / 394.2 (s)</text><text x="0" y="1139.4" xml:space="preserve">Peak Height:  -6.992 (mW)</text><text x="0" y="1149.4" xml:space="preserve">Onset:  51.012 (°C) / 236.799 (s)</text><text x="0" y="1159.3" xml:space="preserve">Offset:  140.813 (°C) / 597.565 (s)</text><text x="0" y="1169.3" xml:space="preserve">Baseline Type:  Linear</text><text x="0" y="1179.3" xml:space="preserve">Mass Used:  21 mg (initial)</text></g>
<rect x="228.7" y="1284.1" width="132.6" height="92" fill="#e9e9e9" stroke="#bbb" stroke-width="1"/>
<g transform="translate(230.7 0) scale(0.839 1)" font-size="7.7" font-weight="bold" fill="#111"><text x="0" y="1293" xml:space="preserve">Heat:  5.235 (J/g)</text><text x="0" y="1303" xml:space="preserve">T: 181.69 and 246.30 (°C)</text><text x="0" y="1312.9" xml:space="preserve">t: 753.0 and 1,003.0 (s)</text><text x="0" y="1322.9" xml:space="preserve">Peak Maximum:  216.131 (°C) / 885.6 (s)</text><text x="0" y="1332.8" xml:space="preserve">Peak Height:  -0.852 (mW)</text><text x="0" y="1342.8" xml:space="preserve">Onset:  185.759 (°C) / 768.496 (s)</text><text x="0" y="1352.8" xml:space="preserve">Offset:  239.875 (°C) / 977.95 (s)</text><text x="0" y="1362.7" xml:space="preserve">Baseline Type:  Linear</text><text x="0" y="1372.7" xml:space="preserve">Mass Used:  21 mg (initial)</text></g>
<rect x="506.1" y="1308.6" width="138.4" height="91.5" fill="#e9e9e9" stroke="#bbb" stroke-width="1"/>
<g transform="translate(508.3 0) scale(0.836 1)" font-size="7.7" font-weight="bold" fill="#111"><text x="0" y="1317.4" xml:space="preserve">Heat:  -17.369 (J/g)</text><text x="0" y="1327.4" xml:space="preserve">T: 245.45 and 306.08 (°C)</text><text x="0" y="1337.3" xml:space="preserve">t: 999.6 and 1,238.2 (s)</text><text x="0" y="1347.3" xml:space="preserve">Peak Maximum:  278.793 (°C) / 1,130.2 (s)</text><text x="0" y="1357.2" xml:space="preserve">Peak Height:  3.185 (mW)</text><text x="0" y="1367.2" xml:space="preserve">Onset:  255.624 (°C) / 1,039.388 (s)</text><text x="0" y="1377.2" xml:space="preserve">Offset:  298.837 (°C) / 1,209.659 (s)</text><text x="0" y="1387.1" xml:space="preserve">Baseline Type:  Linear</text><text x="0" y="1397.1" xml:space="preserve">Mass Used:  21 mg (initial)</text></g>
<text transform="translate(6 1065.4) scale(0.89 1)" font-size="21.5" font-weight="bold" fill="#000" stroke="#000" stroke-width="0.35">(c)</text>
</svg>
</body></html>
